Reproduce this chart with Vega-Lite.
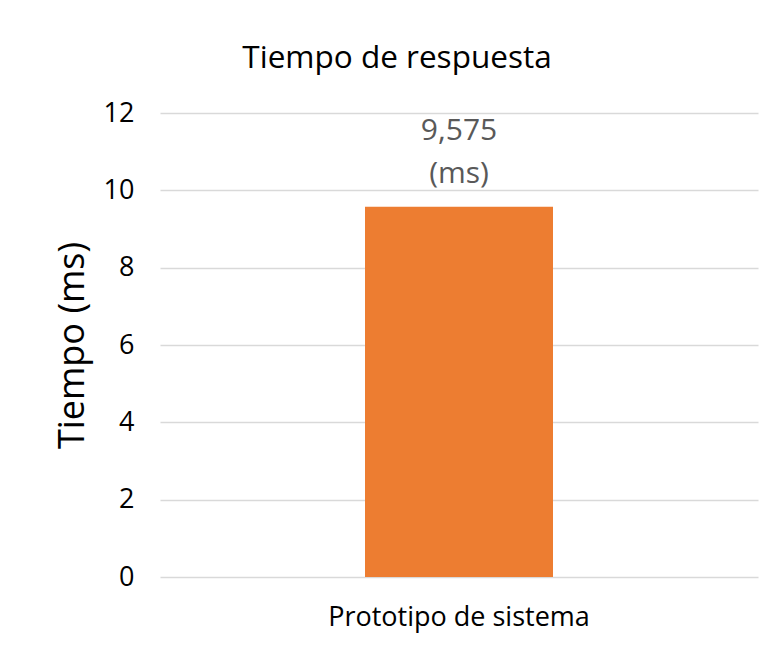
{
  "$schema": "https://vega.github.io/schema/vega-lite/v6.json",
  "width": 598,
  "height": 464,
  "autosize": "none",
  "padding": {"left": 160, "top": 113, "right": 18, "bottom": 69},
  "background": "white",
  "config": {
    "font": "Open Sans",
    "view": {"stroke": null}
  },
  "title": {
    "text": "Tiempo de respuesta",
    "fontSize": 31.5,
    "fontWeight": "normal",
    "color": "#000000",
    "anchor": "middle",
    "dx": -62,
    "offset": 25,
    "font": "Open Sans"
  },
  "data": {
    "values": [
      {"categoria": "Prototipo de sistema", "tiempo": 9.575, "etiqueta": "9,575\n(ms)"}
    ]
  },
  "encoding": {
    "x": {
      "field": "categoria",
      "type": "nominal",
      "title": null,
      "axis": {
        "domain": false,
        "ticks": false,
        "labelAngle": 0,
        "labelFontSize": 27,
        "labelLimit": 600,
        "labelColor": "#000000",
        "labelPadding": 27,
        "labelFont": "Open Sans"
      }
    },
    "y": {
      "field": "tiempo",
      "type": "quantitative",
      "scale": {"domain": [0, 12]},
      "title": "Tiempo (ms)",
      "axis": {
        "values": [0, 2, 4, 6, 8, 10, 12],
        "domain": false,
        "ticks": false,
        "grid": true,
        "gridColor": "#d9d9d9",
        "gridWidth": 1.5,
        "labelFontSize": 27,
        "labelColor": "#000000",
        "labelPadding": 26,
        "titleFontSize": 36,
        "titleFontWeight": "normal",
        "titleColor": "#000000",
        "titlePadding": 12,
        "titleFont": "Open Sans",
        "labelFont": "Open Sans"
      }
    }
  },
  "layer": [
    {
      "mark": {"type": "bar", "width": 188, "color": "#ed7d31"}
    },
    {
      "mark": {
        "type": "text",
        "baseline": "bottom",
        "dy": -61,
        "fontSize": 30,
        "color": "#595959",
        "lineBreak": "\n",
        "lineHeight": 43,
        "font": "Open Sans"
      },
      "encoding": {"text": {"field": "etiqueta"}}
    }
  ]
}
